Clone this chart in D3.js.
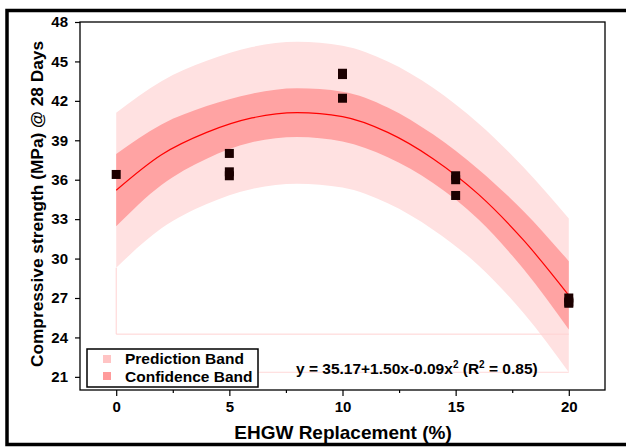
<!DOCTYPE html>
<html>
<head>
<meta charset="utf-8">
<script src="https://cdn.jsdelivr.net/npm/d3@7"></script>
<style>
  body { margin: 0; background: #fff; }
  svg text { font-family: "Liberation Sans", Arial, sans-serif; font-weight: bold; fill: #000; }
</style>
</head>
<body>
<div id="chart"></div>
<script>
// valores
let xs = [0, 2, 4, 6, 8, 10, 12, 14, 16, 18, 20];
let fitLine = [35.2, 37.9, 39.6, 40.7, 41.1, 40.8, 39.6, 37.6, 34.9, 31.4, 27.2];
let confUpper = [37.95, 40.2, 41.6, 42.55, 42.95, 42.7, 41.5, 39.45, 36.8, 33.6, 29.8];
let confLower = [32.45, 35.6, 37.6, 38.85, 39.25, 38.9, 37.7, 35.75, 33.0, 29.2, 24.6];
let predUpper = [41.1, 43.5, 45.05, 46.1, 46.5, 46.2, 45.0, 43.0, 40.3, 36.95, 33.05];
let predLower = [29.3, 32.3, 34.15, 35.3, 35.7, 35.4, 34.2, 32.2, 29.5, 25.85, 21.35];

let pointsX = [0, 5, 5, 5, 10, 10, 10, 15, 15, 15, 20, 20, 20];
let pointsY = [36.4, 38.0, 36.6, 36.3, 44.0, 44.1, 42.2, 36.3, 36.0, 34.8, 27.0, 26.7, 26.6];

let xTicks = [0, 5, 10, 15, 20];
let xMinor = [2.5, 7.5, 12.5, 17.5];
let yTicks = [21, 24, 27, 30, 33, 36, 39, 42, 45, 48];
let legendLabels = ['Prediction Band', 'Confidence Band'];

let width = 626;
let height = 447;
let mLeft = 80, mRight = 605, mTop = 22, mBottom = 390;

let svg = d3.select('#chart').append('svg').attr('width', width).attr('height', height);

let x = d3.scaleLinear().domain([-1.6, 21.6]).range([mLeft, mRight]);
let y = d3.scaleLinear().domain([20, 48]).range([mBottom, mTop]);

// bandas
let band = function (up, low) {
  return d3.area()
    .x(function (d, i) { return x(xs[i]); })
    .y0(function (d, i) { return y(low[i]); })
    .y1(function (d, i) { return y(up[i]); })
    .curve(d3.curveMonotoneX)(xs);
};

svg.append('path').attr('fill', '#ffe1e1').attr('d', band(predUpper, predLower));

// linhas finas rosadas do preenchimento
svg.append('path')
  .attr('fill', 'none')
  .attr('stroke', '#ffd2d2')
  .attr('stroke-width', 1)
  .attr('d', 'M' + x(0) + ',' + y(predLower[0]) + 'V' + y(24.25) + 'H' + x(20));
svg.append('line')
  .attr('x1', x(0)).attr('x2', x(20))
  .attr('y1', y(21.35)).attr('y2', y(21.35))
  .attr('stroke', '#ffd8d8').attr('stroke-width', 1);

svg.append('path').attr('fill', '#ffa3a3').attr('d', band(confUpper, confLower));

svg.append('path')
  .attr('fill', 'none')
  .attr('stroke', '#ff0000')
  .attr('stroke-width', 1.2)
  .attr('d', d3.line()
    .x(function (d, i) { return x(xs[i]); })
    .y(function (d) { return y(d); })
    .curve(d3.curveMonotoneX)(fitLine));

// pontos
svg.selectAll('rect.pt')
  .data(pointsY)
  .enter().append('rect')
    .attr('class', 'pt')
    .attr('x', function (d, i) { return x(pointsX[i]) - 4.5; })
    .attr('y', function (d) { return y(d) - 4.5; })
    .attr('width', 9)
    .attr('height', 9)
    .attr('fill', '#1c0000');

// caixa do grafico
svg.append('rect')
  .attr('x', mLeft).attr('y', mTop)
  .attr('width', mRight - mLeft).attr('height', mBottom - mTop)
  .attr('fill', 'none').attr('stroke', '#000').attr('stroke-width', 1.3);

// eixos
let xAxis = d3.axisBottom(x).tickValues(xTicks).tickSize(6).tickPadding(5);
let gx = svg.append('g').attr('transform', 'translate(0,' + mBottom + ')').call(xAxis);
gx.select('.domain').remove();
gx.selectAll('text').attr('font-size', 15);

let gxm = svg.append('g').attr('transform', 'translate(0,' + mBottom + ')')
  .call(d3.axisBottom(x).tickValues(xMinor).tickSize(3).tickFormat(''));
gxm.select('.domain').remove();

let yAxis = d3.axisLeft(y).tickValues(yTicks).tickSize(5).tickPadding(7);
let gy = svg.append('g').attr('transform', 'translate(' + mLeft + ',0)').call(yAxis);
gy.select('.domain').remove();
gy.selectAll('text').attr('font-size', 15);

svg.selectAll('.tick line').attr('stroke', '#000').attr('stroke-width', 1.2);

// titulos
svg.append('text')
  .attr('x', 343).attr('y', 439)
  .attr('text-anchor', 'middle')
  .attr('font-size', 19)
  .text('EHGW Replacement (%)');

svg.append('text')
  .attr('transform', 'translate(43,204) rotate(-90)')
  .attr('text-anchor', 'middle')
  .attr('font-size', 17.3)
  .text('Compressive strength (MPa) @ 28 Days');

// equacao
let eq = svg.append('text').attr('x', 296).attr('y', 374).attr('font-size', 15.5);
eq.append('tspan').text('y = 35.17+1.50x-0.09x');
eq.append('tspan').attr('dy', -6).attr('font-size', 10).text('2');
eq.append('tspan').attr('dy', 6).text(' (R');
eq.append('tspan').attr('dy', -6).attr('font-size', 10).text('2');
eq.append('tspan').attr('dy', 6).text(' = 0.85)');

// legenda
let lg = svg.append('g');
lg.append('rect')
  .attr('x', 87).attr('y', 349).attr('width', 171).attr('height', 38)
  .attr('fill', '#fff').attr('stroke', '#000').attr('stroke-width', 1.5);
let swatch = ['#ffc4c4', '#ff9b9b'];
lg.selectAll('rect.sw')
  .data(legendLabels)
  .enter().append('rect')
    .attr('class', 'sw')
    .attr('x', 103)
    .attr('y', function (d, i) { return 355 + i * 17; })
    .attr('width', 8).attr('height', 8)
    .attr('fill', function (d, i) { return swatch[i]; });
lg.selectAll('text.lt')
  .data(legendLabels)
  .enter().append('text')
    .attr('class', 'lt')
    .attr('x', 125)
    .attr('y', function (d, i) { return 364 + i * 17.5; })
    .attr('font-size', 15.5)
    .text(function (d) { return d; });

// moldura externa
svg.append('rect')
  .attr('x', 7).attr('y', 10.5)
  .attr('width', 640).attr('height', 434)
  .attr('fill', 'none').attr('stroke', '#000').attr('stroke-width', 3.5);
</script>
</body>
</html>
